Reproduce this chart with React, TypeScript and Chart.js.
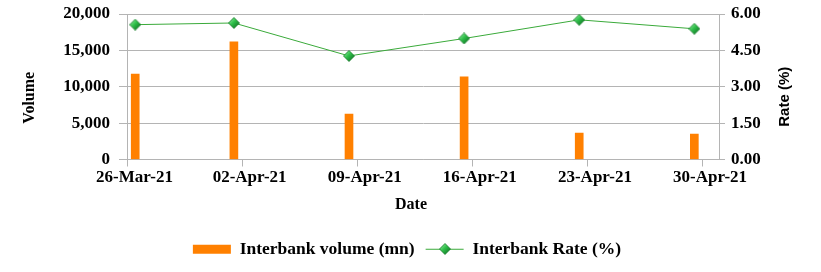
import React, { useEffect, useRef } from 'react';
import { Chart, registerables } from 'chart.js';

Chart.register(...registerables);

// ---- data ----
const barDates = ['2021-03-26', '2021-04-01', '2021-04-08', '2021-04-15', '2021-04-22', '2021-04-29'];
const interbankVolume = [11750, 16180, 6250, 11350, 3630, 3490];
const interbankRate = [5.56, 5.63, 4.27, 4.99, 5.76, 5.39];
const xTickDates = ['2021-03-26', '2021-04-02', '2021-04-09', '2021-04-16', '2021-04-23', '2021-04-30'];
const xTickLabels = ['26-Mar-21', '02-Apr-21', '09-Apr-21', '16-Apr-21', '23-Apr-21', '30-Apr-21'];
const axisStartDate = '2021-03-26';
const axisEndDate = '2021-05-01';
const volumeTicks = [0, 5000, 10000, 15000, 20000];
const rateTicks = [0, 1.5, 3, 4.5, 6];
const seriesNames = ['Interbank volume (mn)', 'Interbank Rate (%)'];
const axisTitleX = 'Date';
const axisTitleY = 'Volume';
const axisTitleY1 = 'Rate (%)';

const DAY = 86400000;
const dayIndex = (d: string) => (Date.parse(d) - Date.parse(axisStartDate)) / DAY;
// Excel date axis centres each mark in its day slot
const slotCentre = (d: string) => dayIndex(d) + 0.5;

const SERIF = "'Liberation Serif', 'Times New Roman', serif";
const SANS = "'Liberation Sans', Arial, sans-serif";
const GRID = '#b4b4b4';
const ORANGE = '#ff8000';
const GREEN = '#3aaa3a';
const LEGEND_BOX_W = 38;

function makeDiamond(): HTMLCanvasElement {
  const c = document.createElement('canvas');
  c.width = 12;
  c.height = 12;
  const g = c.getContext('2d')!;
  const grad = g.createLinearGradient(1, 1, 11, 11);
  grad.addColorStop(0, '#9af0a4');
  grad.addColorStop(0.45, '#2fbf4a');
  grad.addColorStop(1, '#0a6a1c');
  g.beginPath();
  g.moveTo(6, 0.5);
  g.lineTo(11.5, 6);
  g.lineTo(6, 11.5);
  g.lineTo(0.5, 6);
  g.closePath();
  g.fillStyle = grad;
  g.fill();
  g.lineWidth = 0.8;
  g.strokeStyle = '#137a26';
  g.stroke();
  return c;
}

export default function App() {
  const ref = useRef<HTMLCanvasElement | null>(null);

  useEffect(() => {
    document.body.style.margin = '0';
    const canvas = ref.current;
    if (!canvas) return;
    const diamond = makeDiamond();

    const titlesPlugin = {
      id: 'customTitles',
      afterDraw(chart: any) {
        const { ctx, chartArea: a } = chart;
        ctx.save();
        ctx.fillStyle = '#000';
        ctx.textAlign = 'center';
        ctx.textBaseline = 'middle';
        ctx.font = `bold 16px ${SERIF}`;
        ctx.fillText(axisTitleX, (a.left + a.right) / 2 - 12, a.bottom + 45);
        ctx.save();
        ctx.translate(a.left - 97, (a.top + a.bottom) / 2 + 11);
        ctx.rotate(-Math.PI / 2);
        ctx.fillText(axisTitleY, 0, 0);
        ctx.restore();
        ctx.save();
        ctx.font = `bold 15px ${SANS}`;
        ctx.translate(a.right + 66, (a.top + a.bottom) / 2 + 10);
        ctx.rotate(-Math.PI / 2);
        ctx.fillText(axisTitleY1, 0, 0);
        ctx.restore();
        // diamond marker on the line legend item
        const lg = chart.legend;
        if (lg && lg.legendHitBoxes && lg.legendHitBoxes[1]) {
          const hb = lg.legendHitBoxes[1];
          const cx = hb.left + LEGEND_BOX_W / 2;
          const cy = hb.top + hb.height / 2;
          ctx.drawImage(diamond, Math.round(cx - 6), Math.round(cy - 6));
        }
        ctx.restore();
      },
    };

    const chart = new Chart(canvas, {
      type: 'bar',
      data: {
        datasets: [
          {
            type: 'bar',
            label: seriesNames[0],
            data: barDates.map((d, i) => ({ x: slotCentre(d), y: interbankVolume[i] })),
            backgroundColor: ORANGE,
            borderWidth: 0,
            barThickness: 8,
            yAxisID: 'y',
          } as any,
          {
            type: 'line',
            label: seriesNames[1],
            data: barDates.map((d, i) => ({ x: slotCentre(d), y: interbankRate[i] })),
            borderColor: GREEN,
            backgroundColor: GREEN,
            borderWidth: 1,
            pointStyle: diamond,
            pointRadius: 6,
            tension: 0,
            yAxisID: 'y1',
          } as any,
        ],
      },
      options: {
        animation: false,
        responsive: false,
        maintainAspectRatio: false,
        layout: { padding: { top: 14, left: 0, right: 7, bottom: 4 } },
        plugins: {
          tooltip: { enabled: false },
          title: { display: false },
          legend: {
            position: 'bottom',
            labels: {
              color: '#000',
              font: { family: SERIF, size: 17.5, weight: 'bold' },
              usePointStyle: true,
              pointStyleWidth: LEGEND_BOX_W,
              boxHeight: 9,
              padding: 11,
              generateLabels(chart: any) {
                const items = Chart.defaults.plugins.legend.labels.generateLabels(chart);
                items[0].pointStyle = 'rect';
                items[0].fillStyle = ORANGE;
                items[0].lineWidth = 0;
                items[1].pointStyle = 'line';
                items[1].strokeStyle = GREEN;
                items[1].lineWidth = 1;
                return items;
              },
            },
          },
        },
        scales: {
          x: {
            type: 'linear',
            position: 'bottom',
            offset: false,
            min: dayIndex(axisStartDate),
            max: dayIndex(axisEndDate),
            afterBuildTicks(scale: any) {
              scale.ticks = xTickDates.map((d) => ({ value: dayIndex(d) }));
            },
            afterFit(scale: any) {
              scale.height = 70;
            },
            ticks: {
              autoSkip: false,
              maxRotation: 0,
              minRotation: 0,
              labelOffset: 7.5,
              padding: 1,
              color: '#000',
              font: { family: SERIF, size: 17, weight: 'bold' },
              callback: (_v: any, i: number) => xTickLabels[i],
            },
            grid: {
              offset: false,
              drawOnChartArea: false,
              drawTicks: true,
              tickLength: 7,
              color: GRID,
            },
            border: { display: true, color: GRID },
          },
          y: {
            type: 'linear',
            position: 'left',
            min: volumeTicks[0],
            max: volumeTicks[volumeTicks.length - 1],
            afterBuildTicks(scale: any) {
              scale.ticks = volumeTicks.map((v) => ({ value: v }));
            },
            afterFit(scale: any) {
              scale.width = 127;
              scale.paddingTop = 0;
              scale.paddingBottom = 0;
            },
            ticks: {
              padding: 9,
              color: '#000',
              font: { family: SERIF, size: 17, weight: 'bold' },
              callback: (v: any) => Number(v).toLocaleString('en-US'),
            },
            grid: { color: GRID, tickLength: 8, drawTicks: true },
            border: { display: true, color: GRID },
          },
          y1: {
            type: 'linear',
            position: 'right',
            min: rateTicks[0],
            max: rateTicks[rateTicks.length - 1],
            afterBuildTicks(scale: any) {
              scale.ticks = rateTicks.map((v) => ({ value: v }));
            },
            afterFit(scale: any) {
              scale.width = 95;
              scale.paddingTop = 0;
              scale.paddingBottom = 0;
            },
            ticks: {
              padding: 6,
              color: '#000',
              font: { family: SERIF, size: 17, weight: 'bold' },
              callback: (v: any) => Number(v).toFixed(2),
            },
            grid: { color: GRID, drawOnChartArea: false, tickLength: 6, drawTicks: true },
            border: { display: true, color: GRID },
          },
        },
      } as any,
      plugins: [titlesPlugin],
    });

    return () => chart.destroy();
  }, []);

  return (
    <div style={{ width: 821, height: 272 }}>
      <canvas ref={ref} width={821} height={272} style={{ display: 'block' }} />
    </div>
  );
}
